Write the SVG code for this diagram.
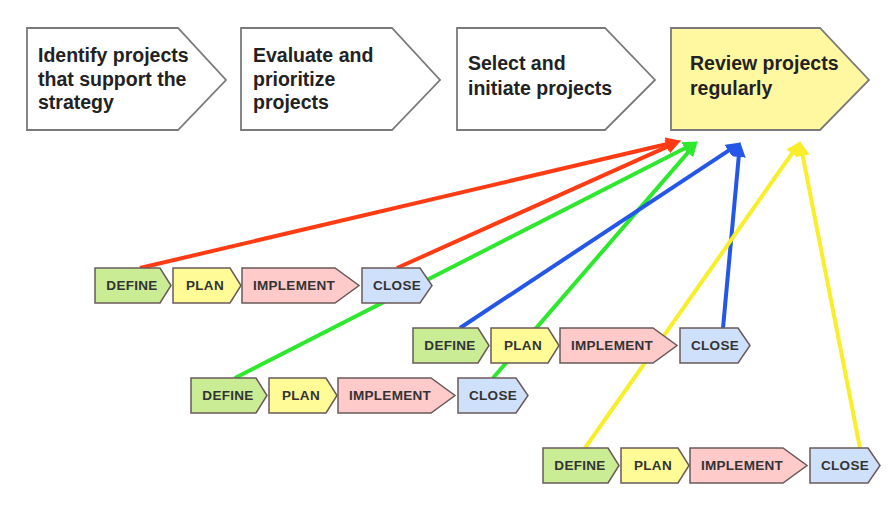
<svg xmlns="http://www.w3.org/2000/svg" width="896" height="512" viewBox="0 0 896 512">
<style>
.big{fill:#fff;stroke:#7a7a7a;stroke-width:1.8}
.bt{font-family:"Liberation Sans",Arial,sans-serif;font-weight:bold;font-size:19.5px;fill:#222}
.sm{stroke:#6a5a5a;stroke-width:1.5}
.st{font-family:"Liberation Sans",Arial,sans-serif;font-weight:bold;font-size:13.5px;letter-spacing:0.3px;fill:#333;text-anchor:middle}
.d{fill:#c9ec94}.p{fill:#fffb96}.i{fill:#ffcaca}.c{fill:#cfe0fb}
.ln{fill:none;stroke-width:4}
</style>
<defs>
<marker id="mr" markerUnits="userSpaceOnUse" markerWidth="16" markerHeight="14" refX="2" refY="7" orient="auto"><path d="M0,0 L15,7 L0,14 z" fill="#ff3b14"/></marker>
<marker id="mg" markerUnits="userSpaceOnUse" markerWidth="16" markerHeight="14" refX="2" refY="7" orient="auto"><path d="M0,0 L15,7 L0,14 z" fill="#2ee82e"/></marker>
<marker id="mb" markerUnits="userSpaceOnUse" markerWidth="16" markerHeight="14" refX="2" refY="7" orient="auto"><path d="M0,0 L15,7 L0,14 z" fill="#2456e8"/></marker>
<marker id="my" markerUnits="userSpaceOnUse" markerWidth="16" markerHeight="14" refX="2" refY="7" orient="auto"><path d="M0,0 L15,7 L0,14 z" fill="#f8ee2a"/></marker>
</defs>

<g id="step1"><polygon class="big" points="27,28 178,28 226,80 178,130 27,130"/>
<text class="bt" x="38" y="62">Identify projects</text><text class="bt" x="38" y="86">that support the</text><text class="bt" x="38" y="109">strategy</text></g>
<g id="step2"><polygon class="big" points="241,28 392,28 440,80 392,130 241,130"/>
<text class="bt" x="253" y="62">Evaluate and</text><text class="bt" x="253" y="86">prioritize</text><text class="bt" x="253" y="109">projects</text></g>
<g id="step3"><polygon class="big" points="457,28 605,28 655,80 605,130 457,130"/>
<text class="bt" x="468" y="70">Select and</text><text class="bt" x="468" y="95">initiate projects</text></g>
<g id="step4"><polygon class="big" style="fill:#fff8a0" points="671,28 820,28 869,80 820,130 671,130"/>
<text class="bt" x="690" y="70">Review projects</text><text class="bt" x="690" y="95">regularly</text></g>

<g id="connectors">
<line class="ln" stroke="#ff3b14" x1="140" y1="268" x2="668.3" y2="143.7" marker-end="url(#mr)"/>
<line class="ln" stroke="#ff3b14" x1="397" y1="268" x2="669.1" y2="145.9" marker-end="url(#mr)"/>
<line class="ln" stroke="#2ee82e" x1="235" y1="378" x2="686.3" y2="147.5" marker-end="url(#mg)"/>
<line class="ln" stroke="#2ee82e" x1="493" y1="378" x2="689.2" y2="151.1" marker-end="url(#mg)"/>
<line class="ln" stroke="#2456e8" x1="460" y1="328" x2="730" y2="149.6" marker-end="url(#mb)"/>
<line class="ln" stroke="#2456e8" x1="723" y1="328" x2="738.9" y2="155" marker-end="url(#mb)"/>
<line class="ln" stroke="#f8ee2a" x1="585" y1="448" x2="793.1" y2="151.8" marker-end="url(#my)"/>
<line class="ln" stroke="#f8ee2a" x1="860" y1="448" x2="802.3" y2="153.8" marker-end="url(#my)"/>
</g>

<g id="row1" transform="translate(95,268)">
<g id="r1-define"><polygon class="sm d" points="0,0 65,0 76,17.5 65,35 0,35"/><text class="st" x="37" y="21.5">DEFINE</text></g>
<g id="r1-plan"><polygon class="sm p" points="78,0 135,0 146,17.5 135,35 78,35"/><text class="st" x="110" y="21.5">PLAN</text></g>
<g id="r1-implement"><polygon class="sm i" points="147,0 240,0 264,17.5 240,35 147,35"/><text class="st" x="199" y="21.5">IMPLEMENT</text></g>
<g id="r1-close"><polygon class="sm c" points="267,0 325,0 337,17.5 325,35 267,35"/><text class="st" x="302" y="21.5">CLOSE</text></g>
</g>
<g id="row2" transform="translate(413,328)">
<g id="r2-define"><polygon class="sm d" points="0,0 65,0 76,17.5 65,35 0,35"/><text class="st" x="37" y="21.5">DEFINE</text></g>
<g id="r2-plan"><polygon class="sm p" points="78,0 135,0 146,17.5 135,35 78,35"/><text class="st" x="110" y="21.5">PLAN</text></g>
<g id="r2-implement"><polygon class="sm i" points="147,0 240,0 264,17.5 240,35 147,35"/><text class="st" x="199" y="21.5">IMPLEMENT</text></g>
<g id="r2-close"><polygon class="sm c" points="267,0 325,0 337,17.5 325,35 267,35"/><text class="st" x="302" y="21.5">CLOSE</text></g>
</g>
<g id="row3" transform="translate(191,378)">
<g id="r3-define"><polygon class="sm d" points="0,0 65,0 76,17.5 65,35 0,35"/><text class="st" x="37" y="21.5">DEFINE</text></g>
<g id="r3-plan"><polygon class="sm p" points="78,0 135,0 146,17.5 135,35 78,35"/><text class="st" x="110" y="21.5">PLAN</text></g>
<g id="r3-implement"><polygon class="sm i" points="147,0 240,0 264,17.5 240,35 147,35"/><text class="st" x="199" y="21.5">IMPLEMENT</text></g>
<g id="r3-close"><polygon class="sm c" points="267,0 325,0 337,17.5 325,35 267,35"/><text class="st" x="302" y="21.5">CLOSE</text></g>
</g>
<g id="row4" transform="translate(543,448)">
<g id="r4-define"><polygon class="sm d" points="0,0 65,0 76,17.5 65,35 0,35"/><text class="st" x="37" y="21.5">DEFINE</text></g>
<g id="r4-plan"><polygon class="sm p" points="78,0 135,0 146,17.5 135,35 78,35"/><text class="st" x="110" y="21.5">PLAN</text></g>
<g id="r4-implement"><polygon class="sm i" points="147,0 240,0 264,17.5 240,35 147,35"/><text class="st" x="199" y="21.5">IMPLEMENT</text></g>
<g id="r4-close"><polygon class="sm c" points="267,0 325,0 337,17.5 325,35 267,35"/><text class="st" x="302" y="21.5">CLOSE</text></g>
</g>
</svg>
